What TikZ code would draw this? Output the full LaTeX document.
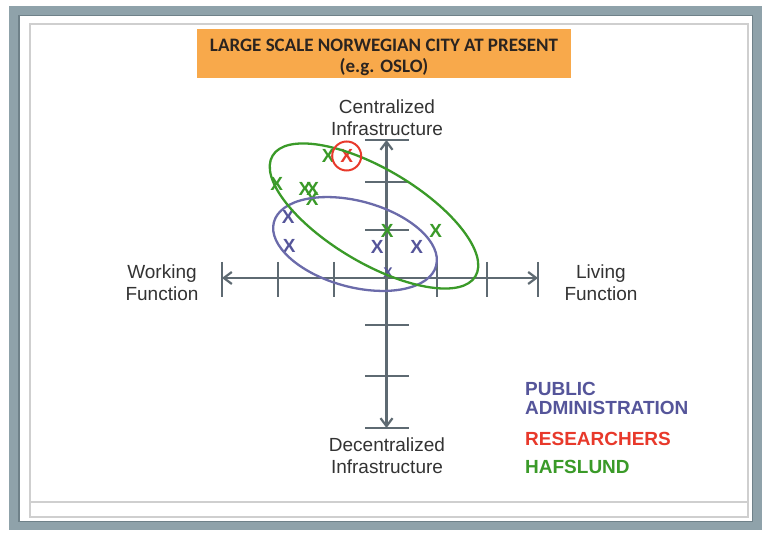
\documentclass[tikz,border=0pt]{standalone}
\usepackage{fontspec}
\setmainfont{Liberation Sans}
\newfontfamily\titlefont{Carlito}
\usetikzlibrary{arrows.meta}
\definecolor{framegray}{HTML}{8FA2AA}
\definecolor{framedark}{HTML}{6F8189}
\definecolor{paneline}{HTML}{CFCFCF}
\definecolor{titleorange}{HTML}{F8A94B}
\definecolor{titletext}{HTML}{2B2420}
\definecolor{axisgray}{HTML}{5E6A72}
\definecolor{pubpurple}{HTML}{55559A}
\definecolor{ellpurple}{HTML}{6B6BAA}
\definecolor{resred}{HTML}{E8392B}
\definecolor{hafgreen}{HTML}{3A9A28}
\definecolor{labelgray}{HTML}{333333}
\begin{document}
\begin{tikzpicture}[x=1pt,y=-1pt,
  axisline/.style={draw=axisgray, line width=2.4pt},
  tickline/.style={draw=axisgray, line width=2.2pt},
  axlabel/.style={font=\fontsize{19}{22}\selectfont, text=labelgray, anchor=base, inner sep=0pt},
  xmark/.style={font=\fontsize{19}{19}\selectfont\bfseries, inner sep=0pt, anchor=center},
  legendtext/.style={font=\fontsize{19}{20}\selectfont\bfseries, anchor=base west, inner sep=0pt},
  ellipseline/.style={line width=2.3pt},
  barb/.tip={Straight Barb[length=8pt,width=12pt,line width=2.2pt]}]
\useasboundingbox (0,0) rectangle (764,534);
% frame
\fill[framegray] (9,6) rectangle (762,530);
\fill[framedark] (18,15) rectangle (753,522);
\fill[white] (20,16) rectangle (752,521);
\draw[paneline, line width=1.2pt] (30,24) rectangle (748,517);
\draw[paneline, line width=1.2pt] (30,502) -- (748,502);
% title
\node[fill=titleorange, minimum width=374pt, minimum height=49pt, inner sep=0pt] (titlebox) at (384,53.5) {};
\node[font=\titlefont\bfseries\fontsize{19}{21}\selectfont, text=titletext, anchor=base, inner sep=0pt] (title1) at (384,51.7) {LARGE SCALE NORWEGIAN CITY AT PRESENT};
\node[font=\titlefont\bfseries\fontsize{19}{21}\selectfont, text=titletext, anchor=base, inner sep=0pt] (title2) at (384,72.7) {(e.g. OSLO)};
% axes
\coordinate (vtop) at (386.5,140);
\coordinate (vbot) at (386.5,428);
\coordinate (hleft) at (222,278);
\coordinate (hright) at (538,278);
\foreach \yy in {140,182,230,325,376,428}
  \draw[tickline] (365,\yy) -- (409,\yy);
\foreach \xx in {222,278,334,437,487,538}
  \draw[tickline] (\xx,262) -- (\xx,297);
\draw[axisline, barb-barb] (vbot) -- (vtop);
\draw[axisline, barb-barb] (hleft) -- (hright);
% axis labels
\node[axlabel] (cen1) at (387,113.3) {Centralized};
\node[axlabel] (cen2) at (387,135.3) {Infrastructure};
\node[axlabel] (work1) at (162,278.3) {Working};
\node[axlabel] (work2) at (162,300.3) {Function};
\node[axlabel] (liv1) at (601,278.3) {Living};
\node[axlabel] (liv2) at (601,300.3) {Function};
\node[axlabel] (dec1) at (387,451.3) {Decentralized};
\node[axlabel] (dec2) at (387,473.3) {Infrastructure};
% marks
\node[xmark, text=hafgreen] (g1) at (328.3,156) {X};
\node[xmark, text=resred] (r1) at (346.7,156) {X};
\node[xmark, text=hafgreen] (g2) at (276.7,184) {X};
\node[xmark, text=hafgreen] (g3) at (305,189.3) {X};
\node[xmark, text=hafgreen] (g4) at (312.7,189.3) {X};
\node[xmark, text=hafgreen] (g5) at (312.3,199.3) {X};
\node[xmark, text=hafgreen] (g6) at (387.3,230.7) {X};
\node[xmark, text=hafgreen] (g7) at (435.7,230.7) {X};
\node[xmark, text=pubpurple] (p1) at (288.3,217.3) {X};
\node[xmark, text=pubpurple] (p2) at (289.3,246) {X};
\node[xmark, text=pubpurple] (p3) at (377.3,247.3) {X};
\node[xmark, text=pubpurple] (p4) at (416.7,247.3) {X};
\node[xmark, text=pubpurple, font=\fontsize{14}{14}\selectfont\bfseries] (p5) at (388,273) {X};
% ellipses
\draw[ellipseline, draw=ellpurple, rotate around={-15.1:(355,244)}] (355,244) ellipse [x radius=84, y radius=43];
\draw[ellipseline, draw=hafgreen, rotate around={-30.7:(374,216)}] (374,216) ellipse [x radius=118, y radius=47];
\draw[line width=2pt, draw=resred] (r1.center) circle [radius=14.5];
% legend
\node[legendtext, text=pubpurple] (leg1) at (525,396) {PUBLIC};
\node[legendtext, text=pubpurple] (leg2) at (525,414.3) {ADMINISTRATION};
\node[legendtext, text=resred] (leg3) at (525,446) {RESEARCHERS};
\node[legendtext, text=hafgreen] (leg4) at (525,474) {HAFSLUND};
\end{tikzpicture}
\end{document}
